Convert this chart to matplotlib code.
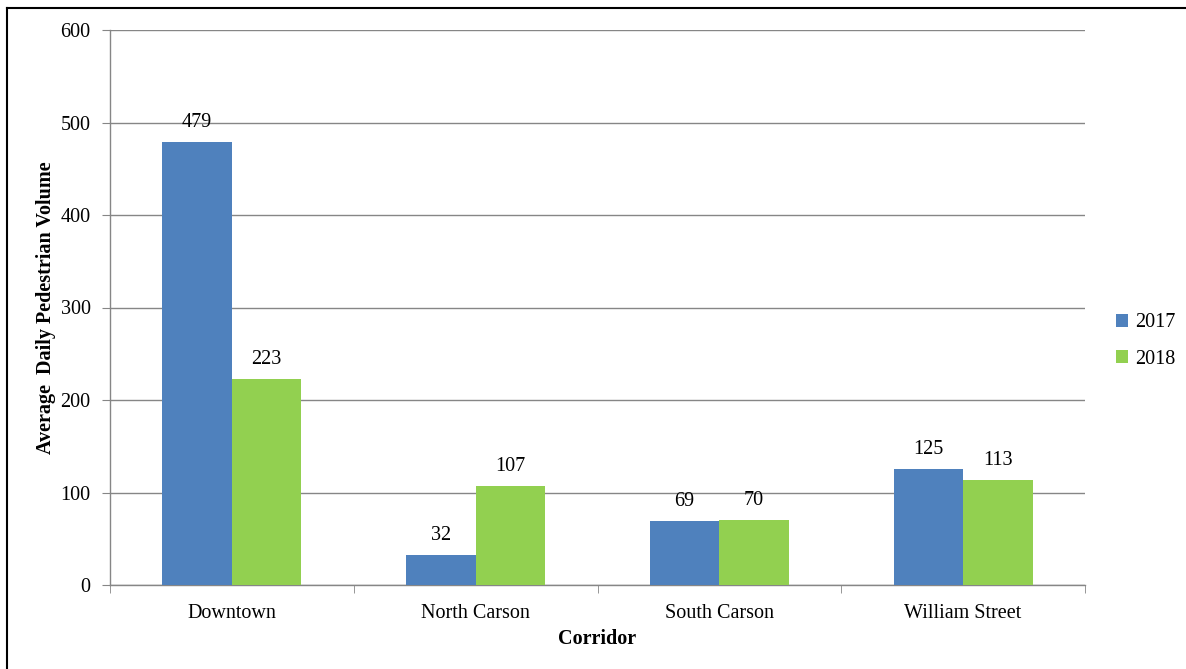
import matplotlib
matplotlib.use("Agg")
import matplotlib.pyplot as plt
import numpy as np
from matplotlib.lines import Line2D

categories = ["Downtown", "North Carson", "South Carson", "William Street"]
series_names = ["2017", "2018"]
values_2017 = [479, 32, 69, 125]
values_2018 = [223, 107, 70, 113]
yticks = [0, 100, 200, 300, 400, 500, 600]

plt.rcParams['font.family'] = ['Liberation Serif', 'DejaVu Serif']

W, H = 1186, 669
FS = 14.5
fig = plt.figure(figsize=(W / 100, H / 100), dpi=100)
ax = fig.add_axes([110 / W, 1 - 585 / H, (1085 - 110) / W, (585 - 30) / H])

colors = ["#4F81BD", "#92D050"]
x = np.arange(len(categories))
bw = 0.285
b1 = ax.bar(x - bw / 2, values_2017, bw, color=colors[0], label=series_names[0], zorder=3)
b2 = ax.bar(x + bw / 2, values_2018, bw, color=colors[1], label=series_names[1], zorder=3)

for bars, vals in ((b1, values_2017), (b2, values_2018)):
    for rect, v in zip(bars, vals):
        ax.text(rect.get_x() + rect.get_width() / 2, v + 11, str(v),
                ha='center', va='bottom', fontsize=FS, color='black')

ax.set_xlim(-0.5, len(categories) - 0.5)
ax.set_ylim(0, 600)
ax.set_yticks(yticks)
ax.set_yticklabels([str(t) for t in yticks], fontsize=FS)
ax.yaxis.grid(True, color='#868686', linewidth=1, zorder=0)
ax.set_axisbelow(True)

ax.set_xticks(x)
ax.set_xticklabels(categories, fontsize=FS)
ax.tick_params(axis='x', length=0, pad=14)
ax.set_xticks(np.arange(-0.5, len(categories) + 0.5, 1), minor=True)
ax.tick_params(axis='x', which='minor', length=6, color='#868686', direction='out')
ax.tick_params(axis='y', length=6, color='#868686', direction='out', pad=8)

for s in ['top', 'right']:
    ax.spines[s].set_visible(False)
for s in ['left', 'bottom']:
    ax.spines[s].set_color('#868686')
    ax.spines[s].set_linewidth(1)

ax.set_xlabel("Corridor", fontsize=FS, fontweight='bold', labelpad=4)
ax.set_ylabel("Average  Daily Pedestrian Volume", fontsize=FS, fontweight='bold', labelpad=3)

leg = fig.legend(handles=[b1, b2], labels=series_names, loc='center left',
                 bbox_to_anchor=(1098 / W, 1 - 341 / H), frameon=False,
                 fontsize=FS, handlelength=0.6, handleheight=0.6,
                 labelspacing=0.85, handletextpad=0.35)

fig.add_artist(Line2D([7 / W, 1], [1 - 8 / H, 1 - 8 / H], color='black', linewidth=1.5,
                      transform=fig.transFigure))
fig.add_artist(Line2D([7 / W, 7 / W], [0, 1 - 8 / H], color='black', linewidth=1.5,
                      transform=fig.transFigure))

fig.savefig("out.png", dpi=100)
